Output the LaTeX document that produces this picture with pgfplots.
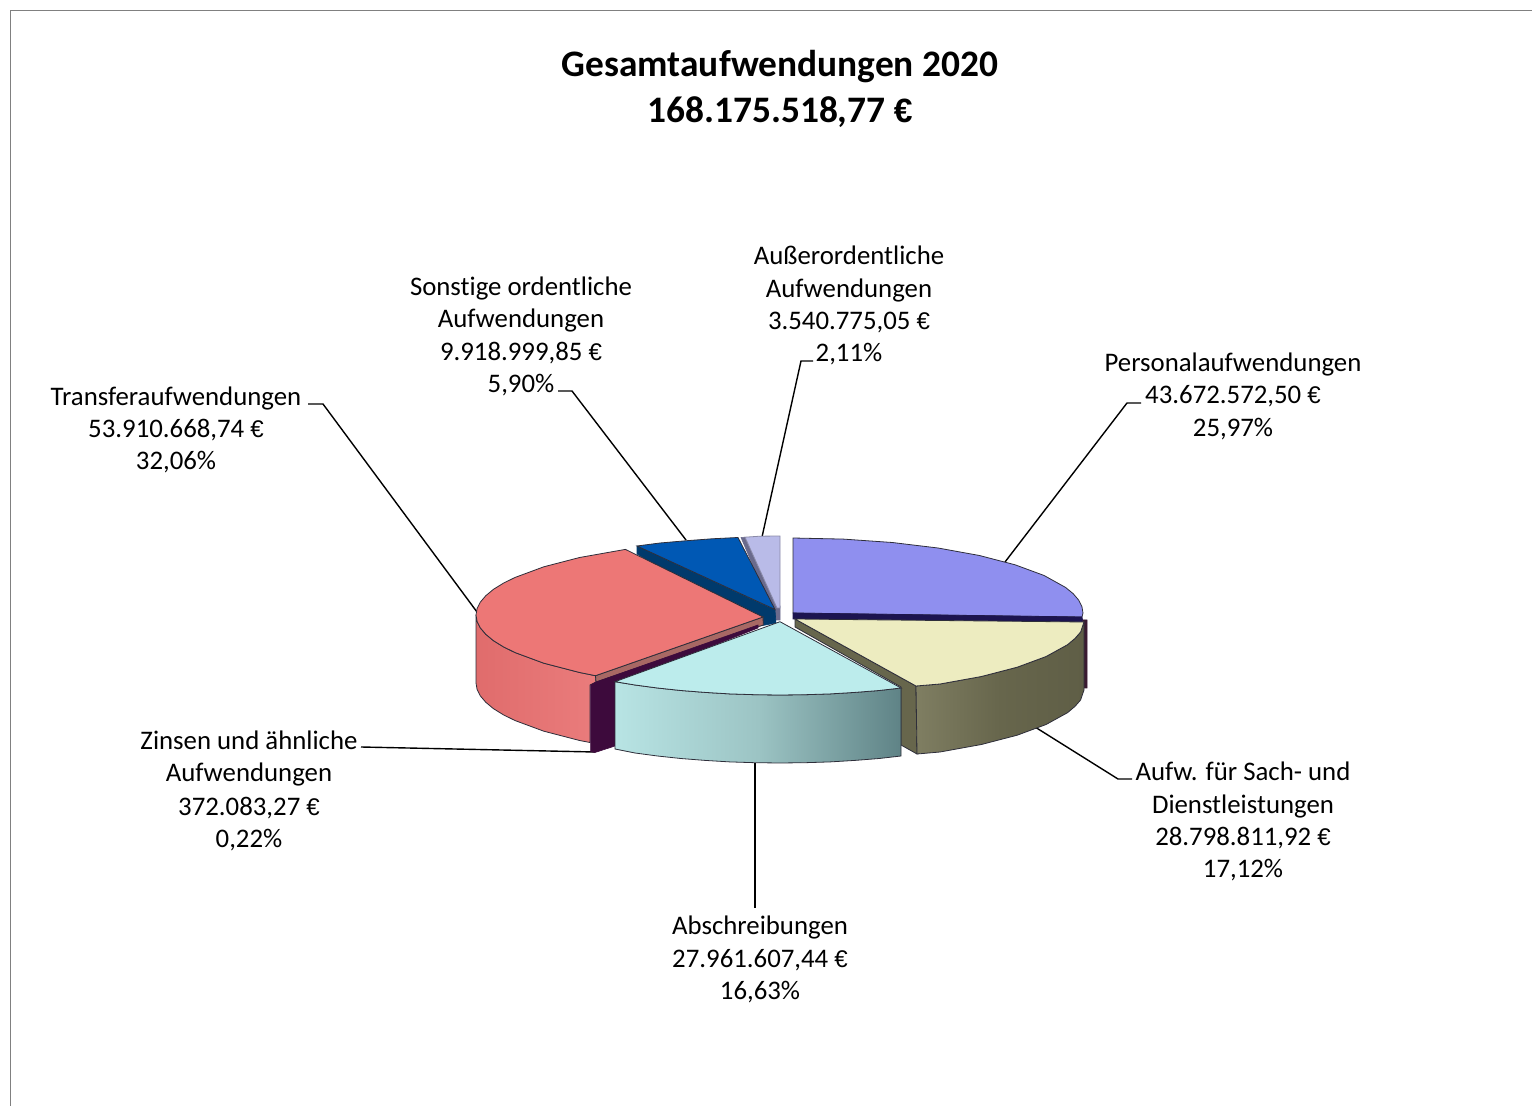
\documentclass[border=0pt]{standalone}
\usepackage{pgfplots}
\usepackage{fontspec}
\setmainfont[Ligatures=NoCommon]{Carlito}
\newfontfamily\eurf[Scale=0.9]{Liberation Sans}
\newcommand{\eur}{{\eurf €}}
\pgfplotsset{compat=1.18}
\definecolor{edge}{HTML}{2E2E3A}
\definecolor{cPers}{HTML}{8F8FEF}
\definecolor{cPersD}{HTML}{1C1450}
\definecolor{cMar}{HTML}{3A1A30}
\definecolor{cOl}{HTML}{67664C}
\definecolor{cOlL}{HTML}{7F7E62}
\definecolor{cOlD}{HTML}{5F5E46}
\definecolor{cYel}{HTML}{EDECC0}
\definecolor{cGrW}{HTML}{6A6A8C}
\definecolor{cLav}{HTML}{B9BBE8}
\definecolor{cLavE}{HTML}{8A8AA8}
\definecolor{cBluD}{HTML}{003A6C}
\definecolor{cBlu}{HTML}{0058B4}
\definecolor{cRedL}{HTML}{E06C6C}
\definecolor{cRedR}{HTML}{EA7C7C}
\definecolor{cRedS}{HTML}{A86864}
\definecolor{cRed}{HTML}{ED7776}
\definecolor{cPur}{HTML}{3D0A3C}
\definecolor{cCyL}{HTML}{B8E4E4}
\definecolor{cCyM}{HTML}{9CC4C4}
\definecolor{cCyR}{HTML}{5F8386}
\definecolor{cCy}{HTML}{BCECEC}
\newcommand{\lab}[3]{\node[anchor=base,inner sep=0pt,font=\fontsize{13.4}{16}\selectfont,text=black] at (axis cs:#1,#2) {#3};}
\begin{document}
\begin{tikzpicture}
\begin{axis}[scale only axis,width=766pt,height=553pt,xmin=0,xmax=1532,ymin=0,ymax=1106,y dir=reverse,axis lines=none,clip=true]
% full extent of the picture
\addplot[draw=none,forget plot] coordinates {(0,0)(1532,1106)};
% frame
\addplot[color=black!50,line width=0.5pt] coordinates {(10,1106)(10,11)(1532,11)};
% leader lines
\addplot[black,line width=0.7pt] coordinates {(1005,562)(1127,403)(1141,403)};
\addplot[black,line width=0.7pt] coordinates {(1035,727)(1118,779)(1132,779)};
\addplot[black,line width=0.8pt] coordinates {(755,763)(755,908)};
\addplot[black,line width=0.7pt] coordinates {(595,752)(361,747)};
\addplot[black,line width=0.7pt] coordinates {(477,612)(323,404)(308,404)};
\addplot[black,line width=0.7pt] coordinates {(686,540)(572,391)(558,391)};
\addplot[black,line width=0.7pt] coordinates {(762,537)(801,361)(813,361)};
% Personal
\addplot[fill=cPers,draw=edge,line width=0.4pt] coordinates {(793,613)(793,538)(843.3,539.1)(892.2,542.5)(938,548)(979.4,555.5)(1015.1,564.8)(1044.1,575.5)(1065.5,587.4)(1073.1,593.6)(1078.6,600)(1081.9,606.5)(1083,613)(1082,617)} -- cycle;
\addplot[fill=cPersD,draw=cPersD,line width=0.3pt] coordinates {(793,613)(1082,617)(1083,622)(795,619)(793,619)} -- cycle;
\addplot[fill=cMar,draw=cMar,line width=0.3pt] coordinates {(1083,620)(1087,620)(1087,688)(1084,688)} -- cycle;
% Aufw. Sach
\addplot[fill=cOl,draw=edge,line width=0.4pt] coordinates {(795,619)(795,627)(901,687)(901,745)(917,754)(916,686)} -- cycle;
\addplot[left color=cOlL,right color=cOlD,middle color=cOl,draw=edge,line width=0.4pt] coordinates {(916,686)(940,684)(981.4,676.5)(1017.2,667.2)(1046.1,656.5)(1067.5,644.7)(1075,638.4)(1080.6,632)(1084,622)(1084,690)(1080.6,700)(1075,706.4)(1067.5,712.7)(1046.1,724.5)(1017.2,735.2)(981.4,744.5)(940,752)(917,754)} -- cycle;
\addplot[fill=cYel,draw=edge,line width=0.4pt] coordinates {(795,619)(1084,622)(1080.6,632)(1075,638.4)(1067.5,644.7)(1046.1,656.5)(1017.2,667.2)(981.4,676.5)(940,684)(916,686)} -- cycle;
% Ausserordentlich
\addplot[fill=cGrW,draw=cGrW,line width=0.3pt] coordinates {(741,537.5)(745,537.2)(780,606)(780,620)(776,620)} -- cycle;
\addplot[fill=cLav,draw=cLavE,line width=0.4pt] coordinates {(745,537.2)(760,536.2)(780,536)(780,608)(777,608)} -- cycle;
% Sonstige
\addplot[fill=cBluD,draw=cBluD,line width=0.3pt] coordinates {(637,546)(775,610)(776,623)(760,626)(637,554)} -- cycle;
\addplot[fill=cBlu,draw=edge,line width=0.4pt] coordinates {(637,546)(660,543)(686.7,540.7)(712,538.8)(738,537.5)(775,609.5)} -- cycle;
% Transfer
\addplot[left color=cRedL,right color=cRedR,draw=edge,line width=0.4pt] coordinates {(476,615)(476,683)(477.1,689.5)(480.4,696)(485.9,702.4)(493.5,708.7)(503.2,714.7)(514.9,720.5)(543.8,731.2)(579.6,740.5)(590,742.5)(590,685)(596,682)(595.5,675.7)(579.6,672.5)(543.8,663.2)(514.9,652.5)(503.2,646.7)(493.5,640.7)(485.9,634.4)(480.4,628)(477.1,621.5)} -- cycle;
\addplot[fill=cRedS,draw=edge,line width=0.4pt] coordinates {(763,617)(595.5,675.7)(596,682)(763.3,625)} -- cycle;
\addplot[fill=cRed,draw=edge,line width=0.4pt] coordinates {(763,617)(625.4,549.4)(579.6,557.5)(543.8,566.8)(514.9,577.5)(503.2,583.3)(493.5,589.3)(485.9,595.6)(480.4,602)(477.1,608.5)(476,615)(477.1,621.5)(480.4,628)(485.9,634.4)(493.5,640.7)(503.2,646.7)(514.9,652.5)(543.8,663.2)(579.6,672.5)(595.5,675.7)} -- cycle;
% Zinsen
\addplot[fill=cPur,draw=cPur,line width=0.3pt] coordinates {(590.7,685)(596,682)(758,625)(758,628)(615,684)(615,746)(595,752.5)(590.7,751.7)} -- cycle;
% Abschreibungen
\addplot[left color=cCyL,right color=cCyR,middle color=cCyM,draw=edge,line width=0.4pt] coordinates {(615,681.7)(635,685)(657.4,688)(680.8,690.5)(705,692.4)(729.6,693.9)(754.7,694.7)(780,695)(805.3,694.7)(830.4,693.9)(855,692.4)(879.2,690.5)(901,688)(901,756)(879.2,758.5)(855,760.4)(830.4,761.9)(805.3,762.7)(780,763)(754.7,762.7)(729.6,761.9)(705,760.4)(680.8,758.5)(657.4,756)(635,753)(615,749)} -- cycle;
\addplot[fill=cCy,draw=edge,line width=0.4pt] coordinates {(780,621.7)(901,688)(879.2,690.5)(855,692.4)(830.4,693.9)(805.3,694.7)(780,695)(754.7,694.7)(729.6,693.9)(705,692.4)(680.8,690.5)(657.4,688)(635,685)(615,681.7)} -- cycle;
% Title
\node[anchor=base,inner sep=0pt,font=\fontsize{18.7}{22}\selectfont\bfseries] at (axis cs:780,77) {Gesamtaufwendungen 2020};
\node[anchor=base,inner sep=0pt,font=\fontsize{18.7}{22}\selectfont\bfseries] at (axis cs:780,123) {168.175.518,77 {\bfseries\eur}};
% Labels
\lab{849}{265}{Außerordentliche}\lab{849}{298}{Aufwendungen}\lab{849}{330}{3.540.775,05 \eur}\lab{849}{362}{2,11\%}
\lab{521}{296}{Sonstige ordentliche}\lab{521}{328}{Aufwendungen}\lab{521}{361}{9.918.999,85 \eur}\lab{521}{393}{5,90\%}
\lab{1233}{372}{Personalaufwendungen}\lab{1233}{404}{43.672.572,50 \eur}\lab{1233}{437}{25,97\%}
\lab{176}{406}{Transferaufwendungen}\lab{176}{438}{53.910.668,74 \eur}\lab{176}{470}{32,06\%}
\lab{249}{749}{Zinsen und ähnliche}\lab{249}{782}{Aufwendungen}\lab{249}{815}{372.083,27 \eur}\lab{249}{847}{0,22\%}
\lab{1243}{780}{Aufw. für Sach- und}\lab{1243}{813}{Dienstleistungen}\lab{1243}{845}{28.798.811,92 \eur}\lab{1243}{877}{17,12\%}
\lab{760}{934}{Abschreibungen}\lab{760}{967}{27.961.607,44 \eur}\lab{760}{999}{16,63\%}
\end{axis}
\end{tikzpicture}
\end{document}
